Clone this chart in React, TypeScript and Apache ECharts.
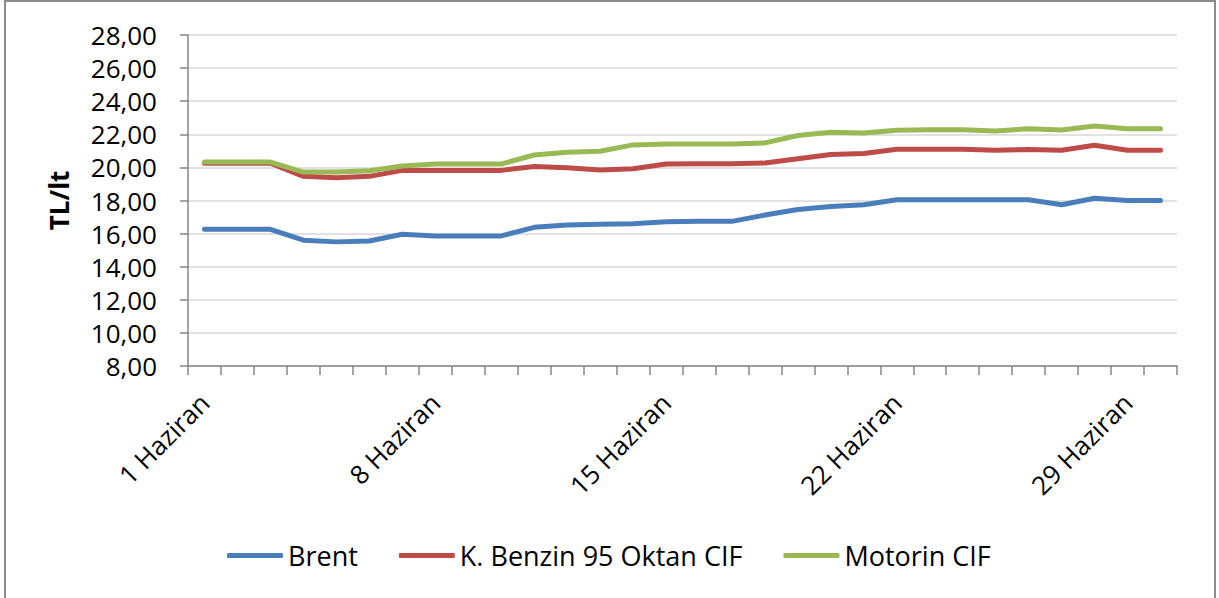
import React, { useEffect, useRef } from "react";
import * as echarts from "echarts";

const days: string[] = Array.from({ length: 30 }, (_, i) => `${i + 1} Haziran`);

const brent: number[] = [
  16.26, 16.26, 16.26, 15.6, 15.5, 15.55, 15.96, 15.86, 15.86, 15.86,
  16.38, 16.52, 16.56, 16.6, 16.72, 16.74, 16.74, 17.12, 17.46, 17.64,
  17.74, 18.04, 18.04, 18.04, 18.04, 18.04, 17.74, 18.14, 18.0, 18.0,
];

const benzin: number[] = [
  20.25, 20.25, 20.25, 19.46, 19.38, 19.46, 19.82, 19.82, 19.82, 19.82,
  20.06, 19.98, 19.84, 19.92, 20.2, 20.22, 20.22, 20.26, 20.52, 20.78,
  20.84, 21.1, 21.1, 21.1, 21.04, 21.08, 21.04, 21.34, 21.04, 21.04,
];

const motorin: number[] = [
  20.32, 20.32, 20.32, 19.72, 19.72, 19.8, 20.08, 20.2, 20.2, 20.2,
  20.75, 20.92, 20.98, 21.36, 21.42, 21.42, 21.42, 21.48, 21.93, 22.12,
  22.08, 22.24, 22.28, 22.28, 22.2, 22.34, 22.26, 22.5, 22.34, 22.34,
];

const seriesNames = ["Brent", "K. Benzin 95 Oktan CIF", "Motorin CIF"];
const colors = ["#4A7EBB", "#BE4B48", "#98B954"];
const yName = "TL/lt";

const FONT = "Open Sans";

export default function App() {
  const ref = useRef<HTMLDivElement>(null);
  useEffect(() => {
    if (!ref.current) return;
    const chart = echarts.init(ref.current, undefined, { renderer: "svg" });
    const data = [brent, benzin, motorin];
    chart.setOption({
      animation: false,
      backgroundColor: "#ffffff",
      textStyle: { fontFamily: FONT },
      graphic: [
        {
          type: "rect",
          shape: { x: 5, y: 1, width: 1210, height: 640 },
          style: { fill: "none", stroke: "#8c8c8c", lineWidth: 2 },
          silent: true,
        },
      ],
      grid: { left: 188, right: 42, top: 35, bottom: 232, containLabel: false },
      legend: {
        left: 222,
        top: 537,
        icon: "roundRect",
        itemWidth: 56,
        itemHeight: 5,
        itemGap: 41,
        textStyle: { fontFamily: FONT, fontSize: 27, color: "#000" },
        data: seriesNames,
      },
      xAxis: {
        type: "category",
        data: days,
        boundaryGap: true,
        axisLine: { lineStyle: { color: "#868686", width: 1.5 } },
        axisTick: { show: true, interval: 0, length: 9, alignWithLabel: false, lineStyle: { color: "#868686", width: 1.5 } },
        axisLabel: {
          interval: 6,
          rotate: 45,
          margin: 32,
          fontFamily: FONT,
          fontSize: 26,
          color: "#000",
        },
        splitLine: { show: false },
      },
      yAxis: {
        type: "value",
        min: 8,
        max: 28,
        interval: 2,
        name: yName,
        nameLocation: "middle",
        nameGap: 116,
        nameTextStyle: { fontFamily: FONT, fontSize: 26, fontWeight: "bold", color: "#000" },
        axisLine: { show: true, lineStyle: { color: "#868686", width: 1.5 } },
        axisTick: { show: true, length: 8, lineStyle: { color: "#868686", width: 1.5 } },
        axisLabel: {
          margin: 31,
          fontFamily: FONT,
          fontSize: 26,
          color: "#000",
          formatter: (v: number) => v.toFixed(2).replace(".", ","),
        },
        splitLine: { show: true, lineStyle: { color: "#D9D9D9", width: 1.5 } },
      },
      series: seriesNames.map((name, i) => ({
        name,
        type: "line",
        data: data[i],
        showSymbol: false,
        symbol: "none",
        color: colors[i],
        lineStyle: { width: 5, color: colors[i], cap: "round", join: "round" },
        z: i === 0 ? 3 : i === 1 ? 2 : 4,
      })),
    });
    return () => chart.dispose();
  }, []);
  return (
    <div
      ref={ref}
      style={{ position: "absolute", left: 0, top: 0, width: 1219, height: 598 }}
    />
  );
}
